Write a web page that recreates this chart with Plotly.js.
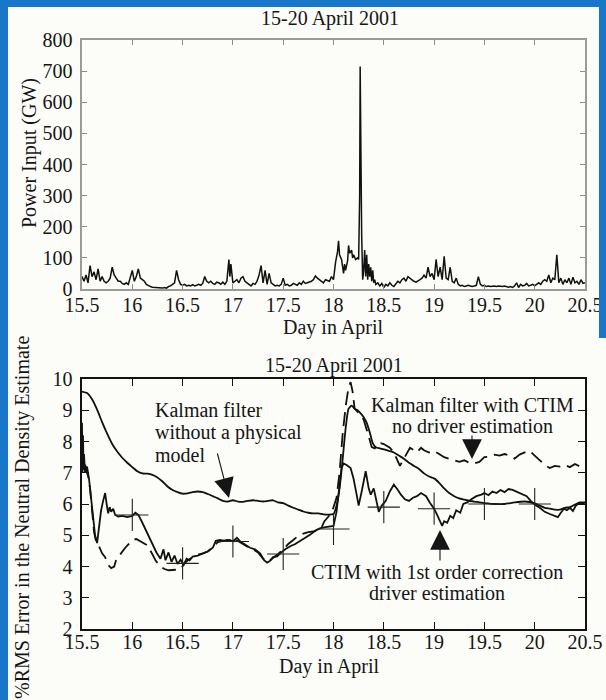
<!DOCTYPE html>
<html>
<head>
<meta charset="utf-8">
<script src="https://cdn.plot.ly/plotly-3.0.1.min.js"></script>
<style>html,body{margin:0;padding:0;background:#fcfcf8;} #chart{width:606px;height:700px;}</style>
</head>
<body>
<div id="chart"></div>
<script>
// ---------- Top panel: Power input (GW) ----------
const powerDay = [15.50,15.52,15.54,15.56,15.58,15.60,15.62,15.64,15.66,15.68,15.70,15.72,15.74,15.76,15.78,15.80,15.82,15.84,15.86,15.88,15.90,15.92,15.94,15.96,15.98,16.00,16.02,16.04,16.06,16.08,16.10,16.12,16.14,16.16,16.18,16.20,16.22,16.24,16.26,16.28,16.30,16.32,16.34,16.36,16.38,16.40,16.42,16.44,16.46,16.48,16.50,16.52,16.54,16.56,16.58,16.60,16.62,16.64,16.66,16.68,16.70,16.72,16.74,16.76,16.78,16.80,16.82,16.84,16.86,16.88,16.90,16.92,16.94,16.96,16.97,16.98,17.00,17.02,17.04,17.06,17.08,17.10,17.12,17.14,17.16,17.18,17.20,17.22,17.24,17.26,17.28,17.30,17.32,17.34,17.36,17.38,17.40,17.42,17.44,17.46,17.48,17.50,17.52,17.54,17.56,17.58,17.60,17.62,17.64,17.66,17.68,17.70,17.72,17.74,17.76,17.78,17.80,17.82,17.84,17.86,17.88,17.90,17.92,17.94,17.96,17.98,18.00,18.02,18.04,18.05,18.06,18.08,18.10,18.11,18.12,18.14,18.15,18.16,18.18,18.19,18.20,18.22,18.24,18.25,18.26,18.265,18.27,18.275,18.28,18.29,18.30,18.31,18.32,18.33,18.34,18.35,18.36,18.37,18.38,18.39,18.40,18.41,18.42,18.44,18.46,18.48,18.50,18.52,18.54,18.56,18.58,18.60,18.62,18.64,18.66,18.68,18.70,18.72,18.74,18.76,18.78,18.80,18.82,18.84,18.86,18.88,18.90,18.92,18.94,18.96,18.98,19.00,19.02,19.04,19.06,19.08,19.10,19.12,19.14,19.16,19.18,19.20,19.22,19.24,19.26,19.28,19.30,19.32,19.34,19.36,19.38,19.40,19.42,19.44,19.46,19.48,19.50,19.52,19.54,19.56,19.58,19.60,19.62,19.64,19.66,19.68,19.70,19.72,19.74,19.76,19.78,19.80,19.82,19.84,19.86,19.88,19.90,19.92,19.94,19.96,19.98,20.00,20.02,20.04,20.06,20.08,20.10,20.12,20.14,20.16,20.18,20.20,20.22,20.23,20.24,20.26,20.28,20.30,20.32,20.34,20.36,20.38,20.40,20.42,20.44,20.46,20.48,20.50];
const powerGW = [40,25,45,20,75,40,55,30,65,25,40,25,20,25,35,70,45,35,25,25,18,15,20,15,35,60,25,40,65,35,30,25,15,10,8,6,5,4,3,2,3,5,3,8,10,15,20,60,30,15,12,15,10,12,10,14,10,12,15,12,18,40,25,20,25,18,15,22,20,15,22,15,25,95,40,80,20,25,30,20,35,40,25,20,15,10,18,15,25,45,75,20,60,15,50,20,15,10,12,10,15,35,12,15,10,12,18,15,12,20,15,25,18,20,22,25,30,42,35,30,25,20,30,28,25,40,30,85,120,155,110,95,50,80,60,90,140,115,125,100,110,95,100,95,300,715,520,300,175,30,60,125,40,110,30,80,40,70,25,60,20,30,15,20,10,18,5,15,10,20,12,8,15,25,20,30,35,25,40,35,28,25,22,25,30,35,45,35,70,40,50,30,95,40,70,30,105,35,30,70,25,20,35,15,10,12,8,10,12,10,8,10,12,40,15,10,12,8,10,8,9,10,8,10,9,8,10,8,6,8,5,10,20,5,15,10,12,18,10,12,15,10,15,20,15,25,30,25,45,20,35,30,110,40,20,35,15,30,20,35,15,38,20,25,15,30,18,20];

// ---------- Bottom panel: %RMS error ----------
// Kalman filter without a physical model
const kfNoModelDay = [15.50,15.55,15.60,15.65,15.70,15.75,15.80,15.85,15.90,15.95,16.00,16.05,16.10,16.15,16.20,16.25,16.30,16.35,16.40,16.45,16.50,16.55,16.60,16.65,16.70,16.75,16.80,16.85,16.90,16.95,17.00,17.05,17.10,17.15,17.20,17.25,17.30,17.35,17.40,17.45,17.50,17.55,17.60,17.65,17.70,17.75,17.80,17.85,17.90,17.95,18.00,18.03,18.06,18.09,18.12,18.15,18.18,18.21,18.24,18.27,18.30,18.33,18.36,18.39,18.42,18.46,18.50,18.55,18.60,18.65,18.70,18.75,18.80,18.85,18.90,18.95,19.00,19.05,19.10,19.15,19.20,19.25,19.30,19.35,19.40,19.45,19.50,19.60,19.70,19.80,19.90,20.00,20.05,20.10,20.15,20.20,20.25,20.30,20.35,20.40,20.45,20.50];
const kfNoModel = [9.60,9.55,9.35,9.02,8.62,8.25,7.92,7.68,7.48,7.32,7.18,7.05,6.98,6.97,6.93,6.85,6.72,6.56,6.45,6.38,6.33,6.34,6.38,6.40,6.38,6.32,6.25,6.18,6.10,6.08,6.12,6.08,6.07,6.10,6.12,6.10,6.08,6.10,6.12,6.05,6.03,5.95,5.88,5.82,5.76,5.72,5.70,5.70,5.67,5.66,5.68,5.95,6.50,7.40,8.40,9.05,9.15,9.05,9.00,8.90,8.78,8.60,8.30,7.95,7.82,7.78,7.75,7.70,7.65,7.55,7.45,7.32,7.22,7.12,6.98,6.88,6.82,6.68,6.50,6.35,6.25,6.18,6.14,6.10,6.08,6.05,6.03,6.00,6.00,6.05,6.08,6.02,5.95,5.88,5.85,5.82,5.82,5.88,5.90,5.98,6.05,6.05];

// Kalman filter with CTIM, no driver estimation (dashed)
const kfCtimDay = [15.50,15.51,15.52,15.54,15.56,15.58,15.60,15.62,15.64,15.655,15.70,15.73,15.76,15.79,15.82,15.84,15.93,15.96,16.00,16.04,16.07,16.15,16.19,16.23,16.28,16.32,16.36,16.40,16.45,16.48,16.52,16.56,16.60,16.65,16.70,16.75,16.80,16.85,16.90,16.95,17.00,17.05,17.10,17.15,17.20,17.25,17.30,17.35,17.40,17.45,17.50,17.55,17.60,17.65,17.70,17.75,17.80,17.85,17.88,17.91,17.95,17.99,18.03,18.06,18.09,18.12,18.15,18.17,18.19,18.21,18.24,18.27,18.30,18.33,18.36,18.38,18.41,18.44,18.47,18.50,18.53,18.56,18.60,18.63,18.66,18.70,18.73,18.76,18.80,18.83,18.87,18.90,18.95,19.00,19.05,19.10,19.15,19.20,19.25,19.30,19.35,19.40,19.45,19.50,19.55,19.60,19.65,19.70,19.75,19.80,19.85,19.90,19.95,20.00,20.05,20.10,20.15,20.20,20.25,20.30,20.35,20.40,20.45,20.50];
const kfCtim = [8.00,7.20,7.50,7.10,6.90,6.50,5.80,5.10,4.80,4.75,4.42,4.30,4.05,3.95,4.00,4.22,4.60,4.72,4.85,4.88,4.82,4.68,4.45,4.20,4.00,3.92,3.88,3.88,3.90,3.92,4.10,4.22,4.30,4.38,4.42,4.48,4.62,4.78,4.82,4.85,4.85,4.82,4.72,4.62,4.55,4.45,4.25,4.15,4.28,4.40,4.55,4.72,4.85,4.98,5.05,5.10,5.12,5.18,5.25,5.45,5.60,5.80,6.20,7.00,8.20,9.10,9.75,9.90,9.60,9.05,8.95,8.85,8.70,8.40,8.05,7.82,7.78,7.92,7.95,7.92,7.85,7.80,7.65,7.45,7.22,7.45,7.62,7.80,7.72,7.65,7.80,7.72,7.65,7.70,7.60,7.50,7.45,7.40,7.35,7.40,7.32,7.30,7.35,7.50,7.52,7.58,7.55,7.60,7.55,7.45,7.58,7.65,7.70,7.55,7.40,7.25,7.15,7.22,7.20,7.25,7.18,7.28,7.20,7.22];

// CTIM with 1st order correction, driver estimation
const ctimCorrDay = [15.500,15.505,15.510,15.515,15.520,15.530,15.550,15.570,15.590,15.610,15.630,15.650,15.670,15.690,15.710,15.730,15.745,15.760,15.775,15.790,15.810,15.830,15.860,15.900,15.950,16.000,16.030,16.060,16.100,16.150,16.200,16.240,16.280,16.310,16.330,16.360,16.390,16.420,16.450,16.480,16.510,16.540,16.570,16.600,16.650,16.700,16.750,16.800,16.830,16.870,16.920,16.970,17.000,17.040,17.080,17.120,17.170,17.220,17.270,17.310,17.340,17.370,17.400,17.440,17.470,17.520,17.570,17.620,17.670,17.720,17.770,17.820,17.870,17.920,17.970,18.000,18.030,18.060,18.080,18.100,18.130,18.170,18.200,18.230,18.250,18.280,18.320,18.350,18.370,18.400,18.430,18.450,18.480,18.520,18.560,18.600,18.640,18.670,18.710,18.750,18.790,18.830,18.870,18.920,18.960,19.000,19.030,19.060,19.080,19.100,19.130,19.160,19.190,19.220,19.260,19.290,19.330,19.370,19.420,19.470,19.500,19.540,19.580,19.620,19.660,19.700,19.740,19.780,19.820,19.870,19.920,19.960,20.000,20.050,20.100,20.150,20.200,20.230,20.260,20.290,20.320,20.350,20.380,20.410,20.440,20.470,20.500];
const ctimCorr = [8.60,7.00,8.20,7.10,7.60,7.00,7.20,6.80,6.20,5.50,5.00,4.75,5.30,5.80,6.10,6.35,6.00,5.70,5.90,5.75,5.85,5.65,5.60,5.62,5.58,5.62,5.72,5.65,5.40,5.05,4.70,4.45,4.25,4.55,4.20,4.45,4.15,4.35,4.08,4.22,4.05,4.25,4.20,4.32,4.35,4.42,4.48,4.60,4.82,4.85,4.82,4.85,4.80,4.92,4.78,4.70,4.60,4.55,4.42,4.20,4.12,4.18,4.30,4.32,4.42,4.55,4.65,4.72,4.82,4.92,5.02,5.15,5.23,5.26,5.28,5.30,5.75,6.60,7.15,7.30,7.25,7.15,6.80,6.30,5.95,6.40,7.05,6.50,6.30,6.50,6.00,5.75,5.95,6.10,6.40,6.62,6.45,6.30,6.15,6.10,6.20,6.25,6.35,6.25,6.03,5.85,5.65,5.40,5.30,5.45,5.40,5.62,5.55,5.80,5.72,6.00,6.05,6.15,6.25,6.30,6.35,6.28,6.40,6.35,6.45,6.38,6.48,6.45,6.40,6.32,6.25,6.10,5.98,5.88,5.75,5.68,5.62,5.58,5.72,5.85,5.80,5.88,5.78,5.95,6.02,6.00,6.05];

// '+' markers every half day
const markDay = [16.0,16.5,17.0,17.5,18.0,18.5,19.0,19.5,20.0];
const markVal = [5.65,4.10,4.80,4.40,5.20,5.90,5.85,6.00,6.00];

const xTicks = [15.5,16,16.5,17,17.5,18,18.5,19,19.5,20,20.5];

const SERIF = '"Liberation Serif", "Times New Roman", Times, serif';
const INK = '#151515';

const traces = [
  {x: powerDay, y: powerGW, xaxis:'x', yaxis:'y', type:'scatter', mode:'lines',
   line:{color:'#111', width:1.5}, hoverinfo:'x+y', showlegend:false},
  {x: kfNoModelDay, y: kfNoModel, xaxis:'x2', yaxis:'y2', type:'scatter', mode:'lines',
   line:{color:'#111', width:1.8, shape:'spline', smoothing:0.6}, name:'Kalman filter without a physical model', showlegend:false},
  {x: kfCtimDay, y: kfCtim, xaxis:'x2', yaxis:'y2', type:'scatter', mode:'lines',
   line:{color:'#111', width:1.8, dash:'14px,7px'}, name:'Kalman filter with CTIM, no driver estimation', showlegend:false},
  {x: ctimCorrDay, y: ctimCorr, xaxis:'x2', yaxis:'y2', type:'scatter', mode:'lines',
   line:{color:'#111', width:1.8}, name:'CTIM with 1st order correction, driver estimation', showlegend:false},
  {x: markDay, y: markVal, xaxis:'x2', yaxis:'y2', type:'scatter', mode:'markers',
   marker:{symbol:'cross-thin', size:23, line:{color:'#222', width:1.1}}, showlegend:false, hoverinfo:'x+y'}
];

// pixel helpers for paper coords (plot area x: 82..585, y: 40..629)
const PX = p => (p - 82) / 503;
const PY = p => 1 - (p - 40) / 589;

const tickFont = {family: SERIF, size: 20, color: INK};
const commonX = {range:[15.5,20.5], tickvals: xTicks, ticks:'inside', ticklen:6, showline:true, mirror:'ticks',
  showgrid:false, zeroline:false, tickfont: tickFont};

const layout = {
  width: 606, height: 700,
  margin: {l:82, r:21, t:40, b:71},
  paper_bgcolor: '#fcfcf8', plot_bgcolor: '#fcfcf8',
  font: {family: SERIF, color: INK},
  xaxis: Object.assign({}, commonX, {anchor:'y', linecolor:'#9a9a9a', tickcolor:'#8a8a8a', linewidth:1.6, ticklen:5, ticklabelstandoff:-3}),
  yaxis: {domain:[0.5772,1], range:[0,800], dtick:100, ticks:'inside', ticklen:5, showline:true, mirror:'ticks',
    linecolor:'#9a9a9a', tickcolor:'#8a8a8a', linewidth:1.6, showgrid:false, zeroline:false, tickfont: tickFont, ticklabelstandoff: 4},
  xaxis2: Object.assign({}, commonX, {anchor:'y2', linecolor:'#111', tickcolor:'#111', linewidth:1.6, ticklen:7, ticklabelstandoff:-6}),
  yaxis2: {domain:[0,0.4244], range:[2,10], dtick:1, ticks:'inside', ticklen:7, showline:true, mirror:'ticks',
    linecolor:'#111', tickcolor:'#111', linewidth:1.6, showgrid:false, zeroline:false, tickfont: tickFont, ticklabelstandoff: 4},
  title: {text:'15-20 April 2001', font:{family:SERIF, size:20, color:INK}, x: 330/606, xanchor:'center', y: 1 - 18/700, yanchor:'middle'},
  annotations: [
    // axis titles and panel title
    {xref:'paper', yref:'paper', x:PX(333), y:PY(328), text:'Day in April', showarrow:false, font:{family:SERIF, size:20, color:INK}, xanchor:'center', yanchor:'middle'},
    {xref:'paper', yref:'paper', x:PX(29), y:PY(153), text:'Power Input (GW)', textangle:-90, showarrow:false, font:{family:SERIF, size:20, color:INK}, xanchor:'center', yanchor:'middle'},
    {xref:'paper', yref:'paper', x:PX(334), y:PY(365), text:'15-20 April 2001', showarrow:false, font:{family:SERIF, size:20, color:INK}, xanchor:'center', yanchor:'middle'},
    {xref:'paper', yref:'paper', x:PX(329), y:PY(666), text:'Day in April', showarrow:false, font:{family:SERIF, size:20, color:INK}, xanchor:'center', yanchor:'middle'},
    {xref:'paper', yref:'paper', x:PX(22), y:PY(518), text:'%RMS Error in the Neutral Density Estimate', textangle:-90, showarrow:false, font:{family:SERIF, size:20, color:INK}, xanchor:'center', yanchor:'middle'},
    // in-plot labels
    {xref:'paper', yref:'paper', x:PX(153), y:PY(410), text:'Kalman filter', showarrow:false, font:{family:SERIF, size:20, color:INK}, xanchor:'left', yanchor:'middle'},
    {xref:'paper', yref:'paper', x:PX(153), y:PY(432), text:'without a physical', showarrow:false, font:{family:SERIF, size:20, color:INK}, xanchor:'left', yanchor:'middle'},
    {xref:'paper', yref:'paper', x:PX(153), y:PY(455), text:'model', showarrow:false, font:{family:SERIF, size:20, color:INK}, xanchor:'left', yanchor:'middle'},
    {xref:'paper', yref:'paper', x:PX(472), y:PY(405), text:'Kalman filter with CTIM', showarrow:false, font:{family:SERIF, size:20, color:INK}, xanchor:'center', yanchor:'middle'},
    {xref:'paper', yref:'paper', x:PX(472), y:PY(426), text:'no driver estimation', showarrow:false, font:{family:SERIF, size:20, color:INK}, xanchor:'center', yanchor:'middle'},
    {xref:'paper', yref:'paper', x:PX(437), y:PY(572), text:'CTIM with 1st order correction', showarrow:false, font:{family:SERIF, size:20, color:INK}, xanchor:'center', yanchor:'middle'},
    {xref:'paper', yref:'paper', x:PX(437), y:PY(593), text:'driver estimation', showarrow:false, font:{family:SERIF, size:20, color:INK}, xanchor:'center', yanchor:'middle'},
    // arrows
    {xref:'paper', yref:'paper', x:PX(229), y:PY(498), ax:-12, ay:-46, text:'', showarrow:true, arrowhead:2, arrowsize:3.6, arrowwidth:1.1, arrowcolor:INK},
    {xref:'paper', yref:'paper', x:PX(472), y:PY(459), ax:0, ay:-25, text:'', showarrow:true, arrowhead:2, arrowsize:3.6, arrowwidth:1.1, arrowcolor:INK},
    {xref:'paper', yref:'paper', x:PX(440), y:PY(530), ax:0, ay:32, text:'', showarrow:true, arrowhead:2, arrowsize:3.6, arrowwidth:1.1, arrowcolor:INK}
  ],
  shapes: [
    {type:'rect', xref:'paper', yref:'paper', x0:PX(0), x1:PX(606), y0:PY(7), y1:PY(0), fillcolor:'#1877c9', line:{width:0}},
    {type:'rect', xref:'paper', yref:'paper', x0:PX(0), x1:PX(8), y0:PY(700), y1:PY(0), fillcolor:'#1877c9', line:{width:0}},
    {type:'rect', xref:'paper', yref:'paper', x0:PX(599), x1:PX(606), y0:PY(338), y1:PY(0), fillcolor:'#1877c9', line:{width:0}}
  ]
};

Plotly.newPlot('chart', traces, layout, {displayModeBar:false, staticPlot:true});
</script>
</body>
</html>
